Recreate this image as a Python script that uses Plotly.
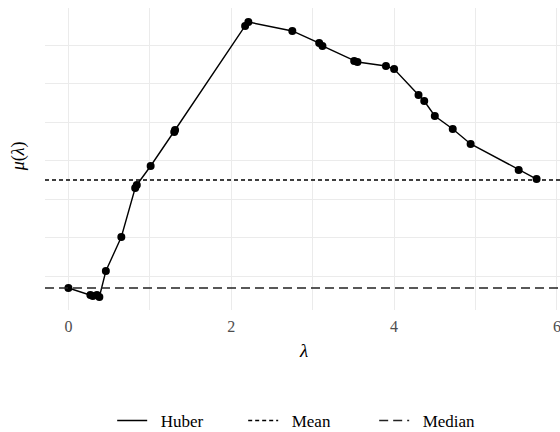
import plotly.graph_objects as go

# Data
lam = [0.00, 0.27, 0.30, 0.35, 0.38, 0.46, 0.65, 0.82, 0.84, 1.01, 1.30, 1.31,
       2.17, 2.21, 2.75, 3.08, 3.12, 3.51, 3.55, 3.90, 4.00, 4.30, 4.37, 4.50,
       4.72, 4.94, 5.53, 5.75]
huber = [0.688, 0.506, 0.481, 0.506, 0.455, 1.130, 2.013, 3.286, 3.364, 3.857,
         4.740, 4.792, 7.494, 7.597, 7.364, 7.052, 6.974, 6.584, 6.558, 6.455,
         6.377, 5.701, 5.545, 5.156, 4.818, 4.429, 3.753, 3.519]
mean_val = 3.494
median_val = 0.688

x_range = [-0.2875, 6.0375]
y_range = [0.117, 7.961]
x_ticks = [0, 2, 4, 6]

FONT = "Liberation Serif"
GRID = "#EBEBEB"
PAD = "\u00a0\u00a0"

fig = go.Figure()
fig.add_trace(go.Scatter(x=lam, y=huber, mode="lines", name=PAD + "Huber",
                         line=dict(color="black", width=1.4)))
fig.add_trace(go.Scatter(x=lam, y=huber, mode="markers", showlegend=False,
                         marker=dict(color="black", size=8)))
fig.add_trace(go.Scatter(x=x_range, y=[mean_val, mean_val], mode="lines", name=PAD + "Mean",
                         line=dict(color="black", width=1.4, dash="4px,3px")))
fig.add_trace(go.Scatter(x=x_range, y=[median_val, median_val], mode="lines", name=PAD + "Median",
                         line=dict(color="#222222", width=1.4, dash="9px,5px")))

fig.update_layout(
    width=560, height=432,
    margin=dict(l=45, r=0, t=8, b=122, autoexpand=False),
    paper_bgcolor="white", plot_bgcolor="white",
    font=dict(family=FONT, size=12, color="black"),
    showlegend=True,
    legend=dict(orientation="h", x=0.512, xanchor="center", y=-0.3675, yanchor="middle",
                font=dict(family=FONT, size=17, color="black"),
                itemwidth=30, entrywidth=86, tracegroupgap=0, bgcolor="rgba(0,0,0,0)"),
    xaxis=dict(range=x_range, tickvals=x_ticks, ticktext=[str(v) for v in x_ticks],
               automargin=False, ticklabeloverflow="allow",
               showgrid=True, gridcolor=GRID, gridwidth=1,
               minor=dict(dtick=1, tick0=0, showgrid=True, gridcolor=GRID, gridwidth=1),
               zeroline=False, showline=False, ticks="", ticklabelstandoff=5,
               tickfont=dict(family=FONT, size=16, color="#4D4D4D")),
    yaxis=dict(range=y_range, dtick=1, tick0=0, showticklabels=False, automargin=False,
               showgrid=True, gridcolor=GRID, gridwidth=1,
               zeroline=False, showline=False, ticks=""),
    annotations=[
        dict(text="<i>λ</i>", x=0.501, y=-0.176, xref="paper", yref="paper",
             showarrow=False, font=dict(family=FONT, size=19, color="black")),
        dict(text="<i>μ</i>(<i>λ</i>)", x=-0.074, y=0.51, xref="paper", yref="paper",
             textangle=-90, showarrow=False, font=dict(family=FONT, size=18, color="black")),
    ],
)

fig.write_html("out.html", config={"displayModeBar": False},
               post_script="document.body.style.margin='0';document.body.style.overflow='hidden';")
